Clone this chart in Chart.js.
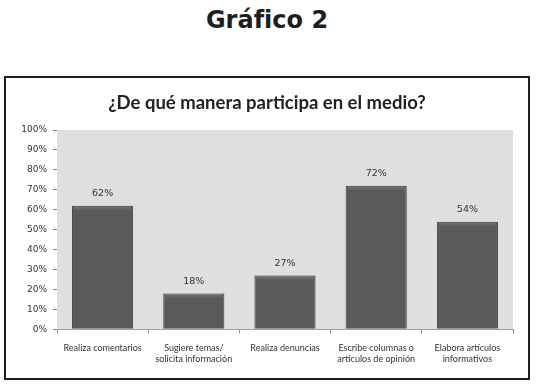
<!DOCTYPE html>
<html lang="es">
<head>
    <meta charset="UTF-8">
    <title>Gráfico 2</title>
    <style>
        body { margin: 0; width: 536px; height: 388px; background: #fff; position: relative; overflow: hidden; }
        #encabezado { position: absolute; left: 0; top: 6px; width: 534px; text-align: center;
            font: bold 24px "DejaVu Sans", sans-serif; color: #1e1e1e; }
        #marco { position: absolute; left: 4px; top: 76px; width: 522px; height: 300px;
            border: 2px solid #1e1e1e; background: #fff; }
        #grafico { display: block; }
    </style>
</head>
<body>
    <div id="encabezado">Gráfico 2</div>
    <div id="marco">
        <canvas id="grafico" width="522" height="300"></canvas>
    </div>

    <script src="https://cdn.jsdelivr.net/npm/chart.js"></script>
    <script>
        const categorias = [
            ["Realiza comentarios"],
            ["Sugiere temas/", "solicita información"],
            ["Realiza denuncias"],
            ["Escribe columnas o", "artículos de opinión"],
            ["Elabora artículos", "informativos"]
        ]
        const porcentajes = [62, 18, 27, 72, 54]
        const tituloGrafico = "¿De qué manera participa en el medio?"

        // fondo gris del area de trazado + titulo centrado en el marco
        const fondoArea = {
            id: 'fondoArea',
            beforeDatasetsDraw(chart) {
                const { ctx, chartArea } = chart
                ctx.save()
                ctx.fillStyle = '#dfdfdf'
                ctx.fillRect(chartArea.left, chartArea.top, chartArea.right - chartArea.left, chartArea.bottom - chartArea.top)
                ctx.fillStyle = '#222'
                ctx.font = 'bold 18.5px Lato'
                ctx.textAlign = 'center'
                ctx.textBaseline = 'middle'
                ctx.fillText(tituloGrafico, chart.width / 2, 25)
                ctx.restore()
            }
        }

        // bisel superior y etiquetas de porcentaje
        const etiquetas = {
            id: 'etiquetas',
            afterDatasetsDraw(chart) {
                const { ctx } = chart
                const meta = chart.getDatasetMeta(0)
                ctx.save()
                meta.data.forEach((bar, i) => {
                    const izq = bar.x - bar.width / 2
                    const g = ctx.createLinearGradient(0, bar.y, 0, bar.y + 5)
                    g.addColorStop(0, 'rgba(140,140,140,0.6)')
                    g.addColorStop(1, 'rgba(140,140,140,0)')
                    ctx.fillStyle = g
                    ctx.fillRect(izq + 2, bar.y + 1, bar.width - 4, 5)

                    ctx.fillStyle = '#333'
                    ctx.font = '9.5px "DejaVu Sans"'
                    ctx.textAlign = 'center'
                    ctx.textBaseline = 'middle'
                    ctx.fillText(porcentajes[i] + '%', bar.x, bar.y - 12)
                })
                ctx.restore()
            }
        }

        function rellenoBarra(context) {
            const chart = context.chart
            const bar = chart.getDatasetMeta(0).data[context.dataIndex]
            if (!bar || !bar.width) return '#5a5a5a'
            const izq = bar.x - bar.width / 2
            const g = chart.ctx.createLinearGradient(izq, 0, izq + bar.width, 0)
            g.addColorStop(0, '#4e4e4e')
            g.addColorStop(0.06, '#5c5c5c')
            g.addColorStop(0.5, '#5e5e5e')
            g.addColorStop(0.94, '#5a5a5a')
            g.addColorStop(1, '#4a4a4a')
            return g
        }

        const canvas = document.getElementById("grafico")

        new Chart(canvas, {
            type: 'bar',
            data: {
                labels: categorias,
                datasets: [{
                    data: porcentajes,
                    backgroundColor: rellenoBarra,
                    borderColor: '#3e3e3e',
                    borderWidth: 1,
                    borderSkipped: 'bottom',
                    categoryPercentage: 1,
                    barPercentage: 0.67
                }]
            },
            options: {
                responsive: false,
                animation: false,
                layout: { padding: { left: 0, right: 15, top: 52, bottom: 4 } },
                plugins: {
                    legend: { display: false },
                    tooltip: { enabled: false },
                    title: { display: false }
                },
                scales: {
                    x: {
                        grid: { offset: true, drawOnChartArea: false, drawTicks: true, tickLength: 4, color: '#8a8a8a' },
                        border: { display: true, color: '#8a8a8a' },
                        ticks: { color: '#333', font: { family: 'Lato', size: 9, lineHeight: 1.15 }, padding: 10, maxRotation: 0, autoSkip: false }
                    },
                    y: {
                        min: 0,
                        max: 100,
                        afterFit(scale) { scale.width = 51 },
                        grid: { drawOnChartArea: false, drawTicks: true, tickLength: 4, color: '#8a8a8a' },
                        border: { display: true, color: '#8a8a8a' },
                        ticks: {
                            stepSize: 10,
                            color: '#333',
                            padding: 6,
                            font: { family: 'DejaVu Sans', size: 9 },
                            callback: val => val + '%'
                        }
                    }
                }
            },
            plugins: [fondoArea, etiquetas]
        })
    </script>
</body>
</html>
